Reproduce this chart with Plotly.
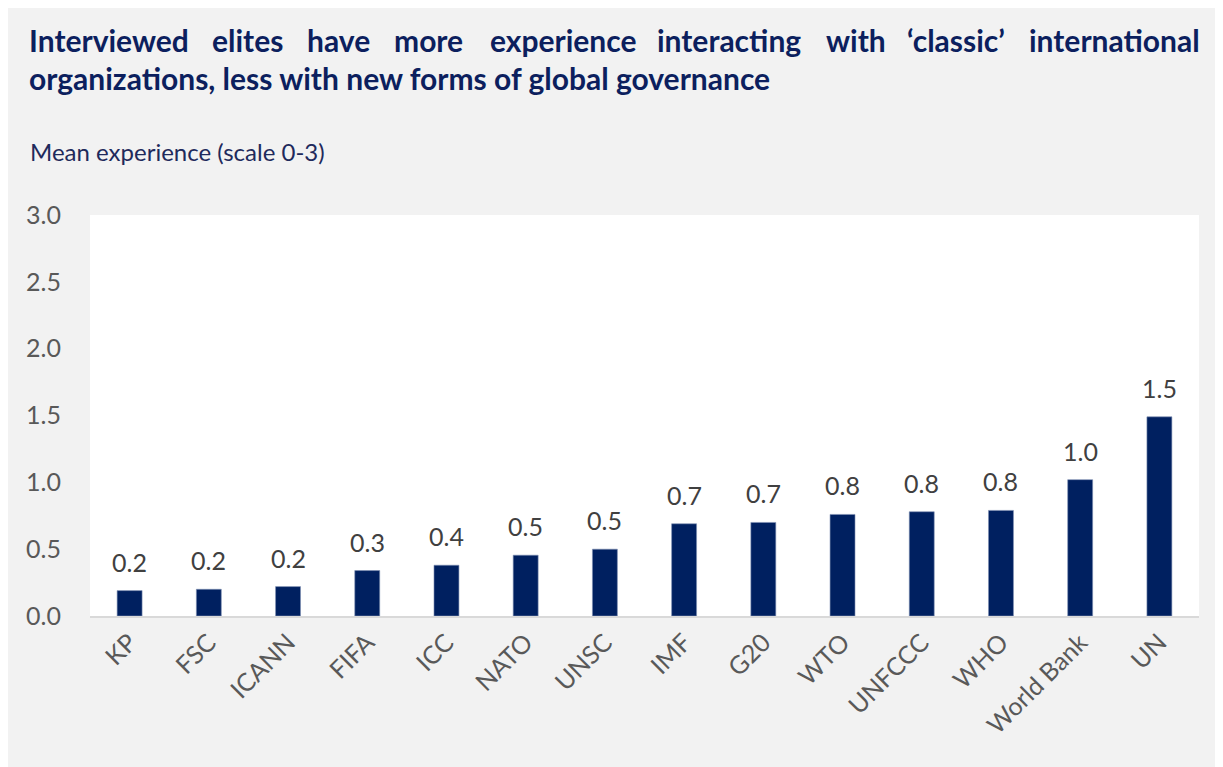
import plotly.graph_objects as go

categories = ["KP", "FSC", "ICANN", "FIFA", "ICC", "NATO", "UNSC", "IMF", "G20",
              "WTO", "UNFCCC", "WHO", "World Bank", "UN"]
values = [0.19, 0.20, 0.22, 0.34, 0.38, 0.455, 0.50, 0.69, 0.70, 0.76, 0.78, 0.79, 1.02, 1.49]
y_ticks = [0.0, 0.5, 1.0, 1.5, 2.0, 2.5, 3.0]

title_line1_words = ["Interviewed", "elites", "have", "more", "experience", "interacting",
                     "with", "‘classic’", "international"]
title_line2 = "organizations, less with new forms of global governance"
y_title = "Mean experience (scale 0-3)"

# page offset of the figure (browser body margin)
OFF = 8
W, H = 1215, 759
L, R, T, B = 82, 24, 207, 151
pw, ph = W - L - R, H - T - B

def px(x):
    return (x - OFF - L) / pw

def py(y):
    return (H - B - (y - OFF)) / ph

navy = "#002060"
title_color = "#0c1f5e"
font = "Lato"

fig = go.Figure(go.Bar(
    x=categories, y=values,
    marker=dict(color=navy, line=dict(color="#8090b4", width=0.6)),
    hoverinfo="x+y",
))

annotations = []
# data labels
for c, v in zip(categories, values):
    annotations.append(dict(x=c, y=v, text=f"{v:.1f}", showarrow=False,
                            xanchor="center", yanchor="middle", yshift=29,
                            font=dict(family=font, size=25, color="#404040")))

# title line 1 justified: word left edges (page px)
word_x = [27, 210, 305, 392, 488, 655, 824, 905, 1030]
for i, (w, x) in enumerate(zip(title_line1_words, word_x)):
    if i == len(title_line1_words) - 1:
        annotations.append(dict(text=f"<b>{w}</b>", x=px(1202), y=py(40), xref="paper", yref="paper",
                                xanchor="right", yanchor="middle", showarrow=False,
                                font=dict(family=font, size=30, color=title_color)))
    else:
        annotations.append(dict(text=f"<b>{w}</b>", x=px(x), y=py(40), xref="paper", yref="paper",
                                xanchor="left", yanchor="middle", showarrow=False,
                                font=dict(family=font, size=30, color=title_color)))

annotations.append(dict(text=f"<b>{title_line2}</b>", x=px(27), y=py(78), xref="paper", yref="paper",
                        xanchor="left", yanchor="middle", showarrow=False,
                        font=dict(family=font, size=30, color=title_color)))
annotations.append(dict(text=y_title, x=px(28), y=py(152), xref="paper", yref="paper",
                        xanchor="left", yanchor="middle", showarrow=False,
                        font=dict(family=font, size=24, color="#1f2a5c")))

fig.update_layout(
    width=W, height=H,
    margin=dict(l=L, r=R, t=T, b=B),
    paper_bgcolor="#f2f2f2", plot_bgcolor="#ffffff",
    bargap=0.685, showlegend=False,
    font=dict(family=font, color="#595959"),
    xaxis=dict(tickangle=-45, tickfont=dict(size=25, color="#595959", family=font),
               showline=True, linecolor="#d9d9d9", linewidth=2, ticks="",
               showgrid=False),
    yaxis=dict(range=[0, 3], tickvals=y_ticks, tickformat=".1f",
               tickfont=dict(size=25, color="#595959", family=font),
               showgrid=False, zeroline=False, showline=False, ticks="",
               ticklabelstandoff=28),
    annotations=annotations,
)

fig.write_html("out.html")
